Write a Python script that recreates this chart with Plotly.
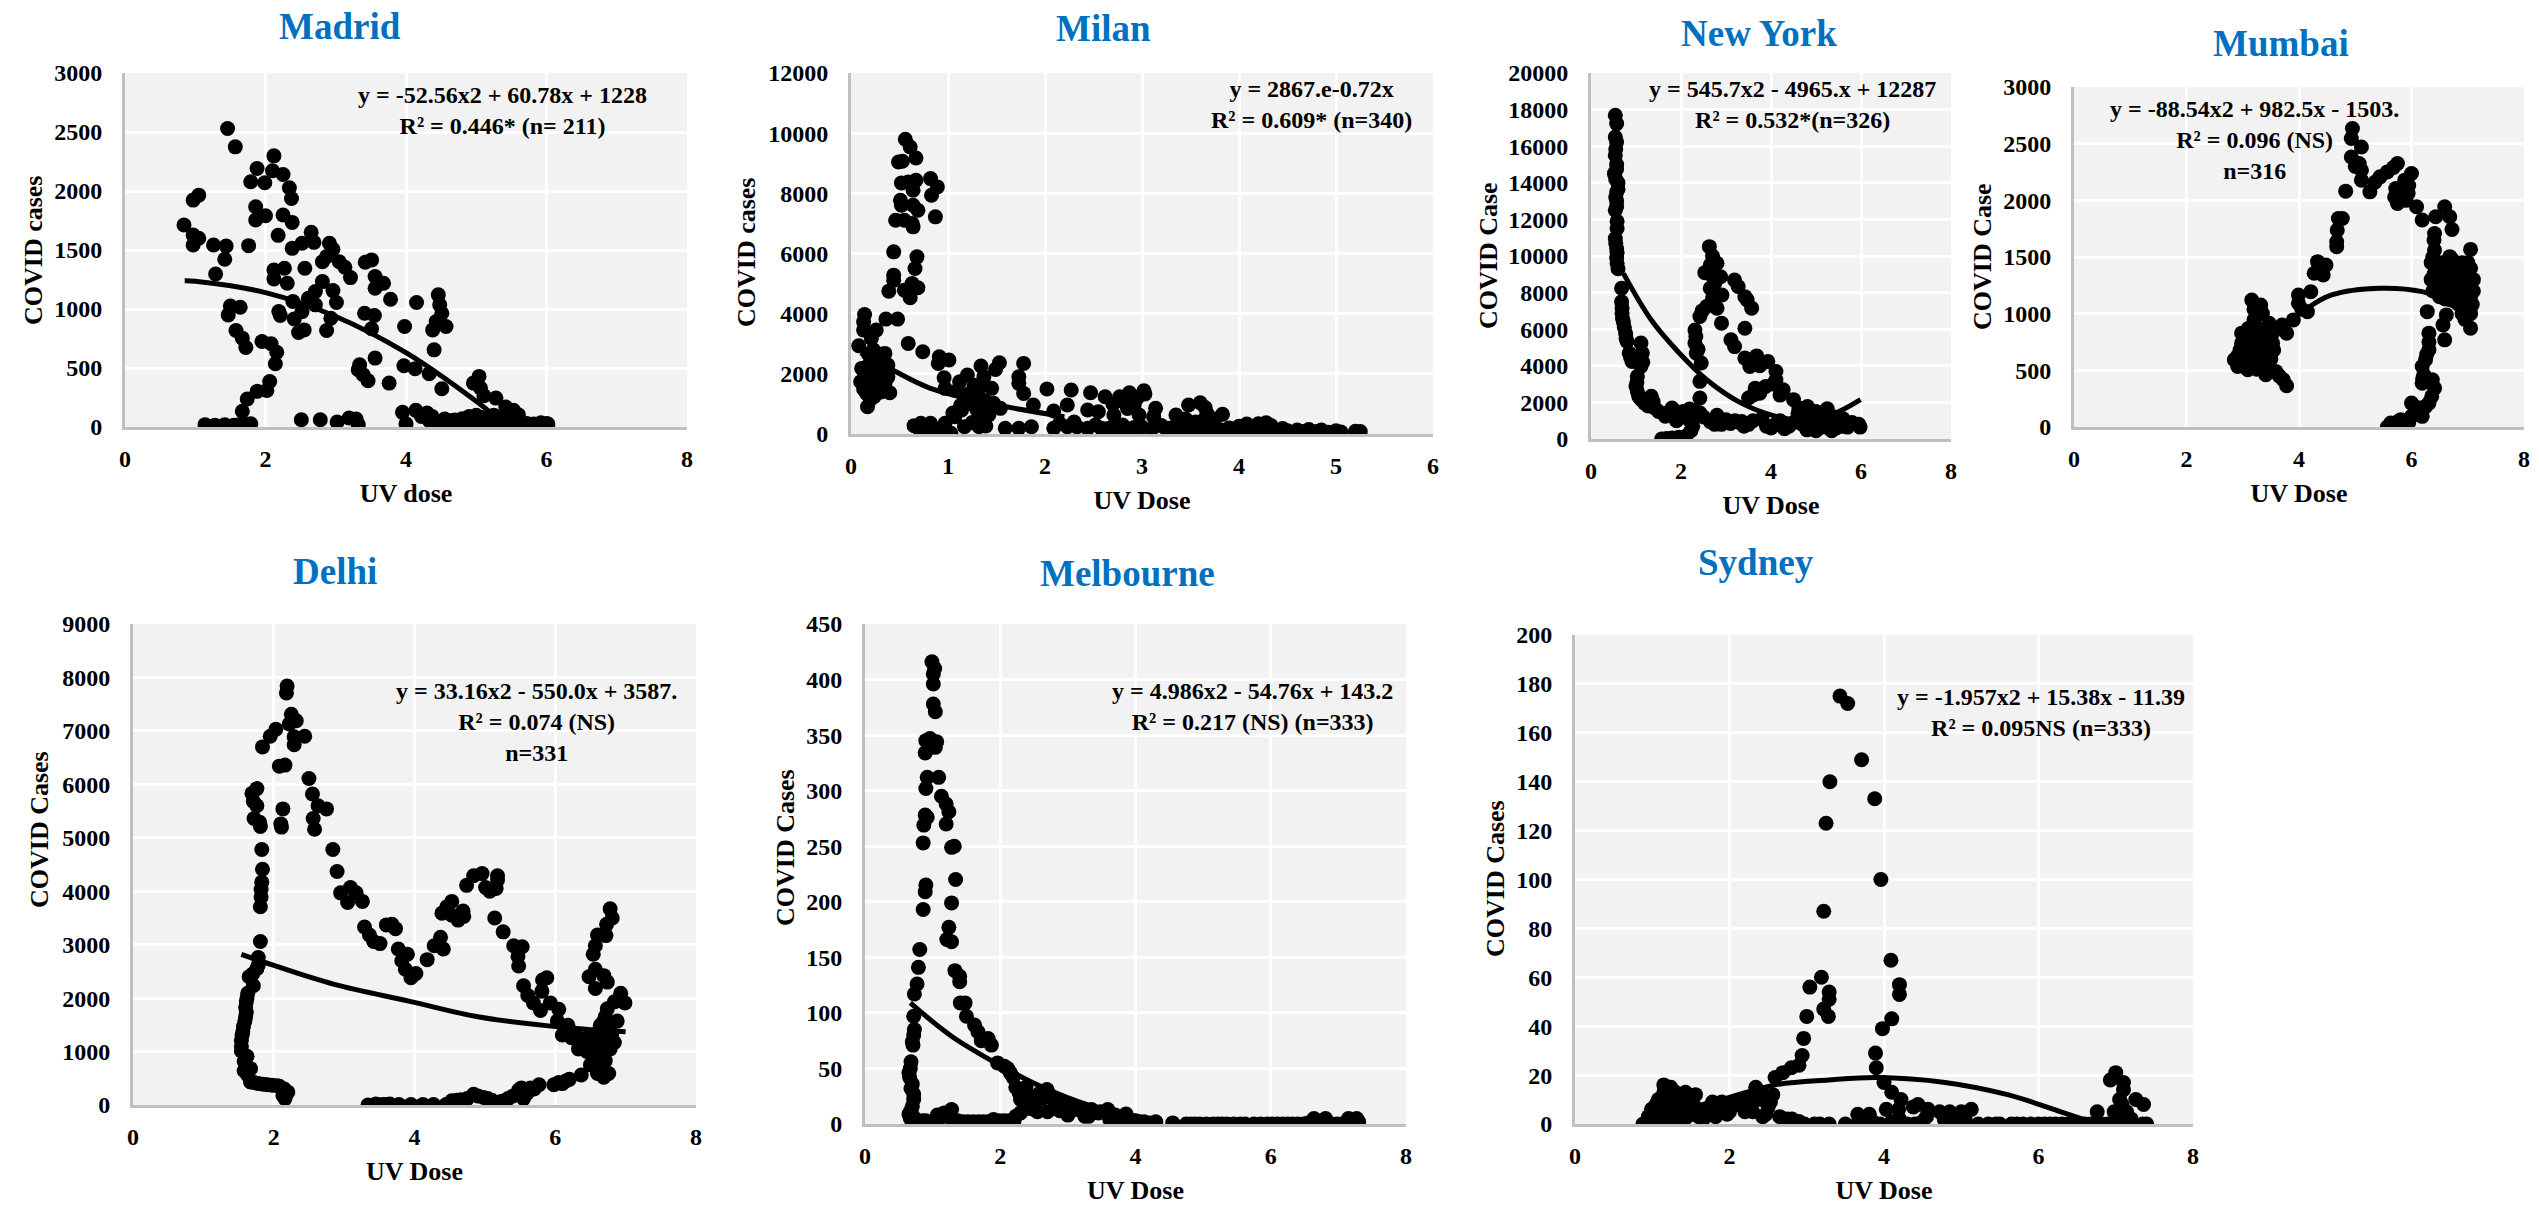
import plotly.graph_objects as go

W, H = 2539, 1206

madrid_points = [(.84,1712),(.97,1923),(1.05,1965),(.97,1627),(1.05,1600),(.97,1543),(1.26,1543),(1.44,1534),(1.42,1421),(1.29,1297),
(1.46,2530),(1.57,2374),(1.88,2191),(1.79,2078),(1.99,2070),(2.12,2298),(2.10,2171),(2.25,2140),(2.34,2028),(2.37,1937),
(1.86,1867),(1.86,1754),(2.0,1790),(2.25,1796),(2.38,1734),(2.18,1624),(1.76,1537),(2.38,1514),(2.52,1557),(2.65,1650),(2.69,1565),
(2.91,1557),(2.96,1506),(2.87,1444),(2.81,1401),(3.05,1401),(3.13,1354),(3.21,1266),(2.12,1331),(2.27,1345),(2.12,1255),(2.31,1218),(2.56,1345),
(3.42,1396),(3.51,1416),(3.56,1275),(3.56,1176),(3.68,1218),(3.78,1083),(2.81,1232),(2.96,1156),(3.01,1055),(2.71,1148),(2.39,1063),(2.61,1091),
(2.71,1035),(2.52,978),(2.41,916),(2.19,978),(2.21,945),(2.93,922),(2.47,801),(2.55,823),(2.87,818),(1.47,950),(1.50,1026),(1.64,1015),(1.58,818),
(1.67,753),(1.72,674),(1.95,725),(2.08,705),(2.16,634),(2.14,536),(2.06,386),(2.02,310),(1.88,302),(1.74,237),(1.67,133),(1.14,20),(1.28,14),(1.42,20),
(1.45,0),(1.62,20),(1.79,28),(2.51,62),(2.78,62),(3.02,42),(3.19,76),(3.29,68),(3.32,20),(3.41,964),(3.55,945),(3.51,832),(3.98,852),(4.15,1055),
(4.46,1120),(4.48,1035),(4.51,964),(4.43,894),(4.38,823),(4.57,852),(4.40,654),(3.56,584),(3.34,527),(3.32,485),(3.39,443),(3.46,392),(3.76,372),
(3.97,519),(4.13,494),(4.33,451),(4.51,324),(5.04,429),(4.96,372),(5.06,330),(5.11,265),(5.28,245),(5.42,169),(5.53,141),(5.60,104),
(3.95,124),(4.0,28),(4.14,141),(4.30,118),(4.33,56),(4.42,20),(4.55,68),(4.65,56),(4.7,60),(4.75,30),(4.8,70),(4.85,10),(4.9,90),(4.95,50),(5.0,100),
(5.02,20),(5.08,80),(5.12,45),(5.15,10),(5.2,70),(5.25,100),(5.3,40),(5.33,5),(5.38,80),(5.42,30),(5.47,110),(5.5,60),(5.55,15),(5.6,50),(5.65,25),
(5.68,5),(5.72,30),(5.78,10),(5.82,25),(5.88,15),(5.92,35),(5.97,20),(6.0,30),(6.02,25),(4.22,90),(4.37,90),(4.6,30),(4.72,15),(4.88,40),(5.05,60),(5.18,35),(5.35,55),(5.52,35),(1.55,15),(1.7,25)]
madrid_trend = [(.85,1240),(1,1236),(2,1139),(3,937),(4,630),(5,218),(5.2,123)]

milan_points = [(.56,9797),(.61,9542),(.67,9177),(.49,9044),(.53,9066),(.52,8347),(.59,8380),(.67,8435),(.64,8103),(.82,8490),(.89,8214),(.83,7937),
(.51,7771),(.52,7605),(.64,7605),(.69,7439),(.46,7107),(.55,7107),(.63,6996),(.64,6886),(.87,7218),(.44,6055),(.68,5889),(.66,5502),(.44,5280),(.44,5114),
(.63,5004),(.69,4860),(.55,4782),(.39,4749),(.61,4528),(.14,3974),(.13,3731),(.13,3454),(.26,3454),(.36,3819),(.48,3819),(.21,3177),(.08,2933),(.59,3011),
(.74,2734),(.91,2568),(1.01,2458),(.90,2347),(.35,2679),(.38,2292),(.11,2181),(.10,1738),(.16,1350),(.17,908),(.40,1373),
(.23,2800),(.28,2450),(.21,2350),(.33,2120),(.26,1900),(.18,1800),(.35,1680),(.28,1570),(.21,1460),(.31,1400),(.15,2100),(.25,2200),(.30,1800),(.38,1900),(.19,1600),(.24,1250),
(.18,2650),(.31,2650),(.14,1950),(.22,2020),(.36,2020),(.27,1720),(.33,1530),(.17,2250),(.29,2300),(.13,1500),(.2,1150),(.25,1420),
(.96,1871),(.97,1517),(1.12,1738),(1.2,1959),(1.34,2258),(1.53,2369),(1.49,2147),(1.78,2347),(1.73,1904),(1.73,1683),(1.45,1517),(1.78,1350),(1.37,1904),
(1.33,1570),(1.22,1350),(1.17,1130),(1.32,1240),(1.27,960),(1.47,1020),(1.54,852),(1.88,963),(2.02,1494),(2.27,1461),(2.47,1373),(2.62,1240),(2.09,764),
(2.23,963),(2.44,797),(2.55,742),(2.71,631),(2.77,1240),(2.87,1373),(3.02,1439),(3.03,1328),(2.92,963),(2.97,631),(3.14,852),(3.12,576),(3.35,631),(3.48,963),
(3.6,1041),(3.67,686),(3.83,653),(3.64,470),(3.49,360),(1.1,1450),(1.27,1620),(1.22,1100),(1.38,1100),(1.42,800),(1.3,800),(1.35,600),(1.13,950),(1.05,700),
(2.9,1250),(2.82,1050),(2.7,1000),(2.95,1200),(2.85,850),(3.65,880),(3.45,500),(3.55,400),(3.75,500),
(.65,277),(.72,354),(.82,354),(.72,55),(.87,55),(1.03,22),(.97,354),(1.07,576),(1.14,797),(1.17,244),(1.32,244),(1.39,266),(1.37,576),(1.42,631),
(1.59,190),(1.73,190),(1.86,240),(2.09,190),(2.23,240),(2.33,240),(2.44,190),(2.58,190),(2.77,130),(2.7,240),(2.86,170),(3.0,230),(3.1,170),(3.2,280),(3.3,200),
(3.42,60),(3.5,240),(3.58,120),(3.66,50),(3.72,200),(3.82,130),(3.95,80),(4.0,260),(4.03,40),(4.08,330),(4.12,100),(4.2,340),(4.28,370),(4.25,60),(4.33,280),
(4.38,90),(4.45,180),(4.55,50),(4.6,130),(4.65,30),(4.72,150),(4.75,40),(4.85,130),(4.92,60),(5.0,110),(5.05,70),(5.2,90),(5.25,80),
(2.15,350),(2.3,400),(2.52,300),(2.65,180),(2.8,300),(2.92,220),(3.25,170),(3.38,240),(3.45,150),(3.9,200),(4.15,180),(4.22,220),(4.35,150),(4.5,110),(4.68,90),(4.8,80),(.78,200),(.93,180),(1.25,380)]
milan_trend = [(.1,2700),(.43,2125),(.82,1517),(1.5,970),(2.2,576)]

newyork_points = [(.54,17690),(.57,17235),(.54,16500),(.57,16230),(.54,15500),(.57,15000),(.52,14500),(.6,14000),(.57,13500),(.57,13000),(.54,12500),(.58,11900),
(.58,11500),(.54,10950),(.57,10400),(.57,9900),(.6,9300),(.55,15850),(.57,14750),(.55,14200),(.6,13650),(.55,13200),(.57,12700),(.55,10700),(.58,10200),(.58,9600),
(.68,8235),(.68,7500),(.69,6870),(.72,6400),(.77,5780),(.8,5330),(.85,4690),(.91,4240),(1.11,5240),(1.14,4690),(.69,7150),(.7,6600),(.74,6100),(.78,5500),(.88,4450),(1.05,4400),(1.15,4200),
(1.11,3960),(1.03,3420),(1.0,2870),(1.06,2330),(1.34,2330),(1.19,1960),(1.42,1690),(1.65,1240),(1.8,1690),(2.19,1640),(1.96,1420),(2.42,1420),(2.26,690),(2.11,145),(1.8,55),(1.57,0),
(1.02,3100),(1.03,2600),(1.12,2150),(1.27,1800),(1.38,2050),(1.5,1500),(1.72,1450),(1.88,1500),(2.05,1500),(2.3,1550),(2.25,1150),(2.22,450),(1.95,100),(1.68,30),
(2.63,10510),(2.7,10000),(2.65,9500),(2.8,9600),(2.53,9090),(2.88,8870),(3.19,8690),(3.27,8330),(2.65,8240),(2.91,7870),(2.7,7690),(3.42,7780),(3.47,7600),(3.57,7150),
(2.57,7240),(2.8,7150),(2.42,6690),(2.9,6330),(3.42,6050),(2.31,5960),(2.31,5240),(3.11,5420),(3.19,5050),(2.34,4690),(2.45,4150),(3.42,4420),(3.53,3960),(3.68,4540),
(3.93,4240),(4.11,3690),(2.42,3150),(4.11,3240),(4.27,2690),(3.88,2870),(3.65,2780),(3.5,2240),(2.42,2240),(4.5,2150),(4.81,1780),
(2.65,9000),(2.75,8500),(2.68,7400),(2.47,7000),(2.33,5600),(2.38,4900),(3.52,4200),(3.75,4000),(4.05,3000),(4.2,2400),(3.75,2500),(3.6,2400),(4.62,1700),(5.0,1500),(5.25,1650),
(2.65,950),(2.8,1300),(3.0,1050),(3.2,1000),(3.4,700),(3.6,1000),(3.8,1100),(4.0,600),(4.2,1000),(4.3,560),(4.5,900),(4.6,1400),(4.7,800),(4.8,500),(4.9,1100),(5.0,450),
(5.1,900),(5.2,1500),(5.3,600),(5.4,1200),(5.5,800),(5.6,1100),(5.7,650),(5.8,900),(5.95,800),(2.5,1200),(2.2,1000),(1.9,1000),(2.9,800),(3.3,900),(4.9,1400),
(2.75,800),(3.1,850),(3.35,950),(3.5,800),(3.9,700),(4.1,800),(4.4,700),(4.75,1000),(4.95,750),(5.05,1200),(5.15,650),(5.25,1000),(5.35,450),(5.45,600),(5.6,700),(5.98,650)]
newyork_trend = [(.72,9050),(1.34,6500),(1.96,4700),(2.57,3240),(3.34,1960),(4.11,1240),(4.73,1020),(5.35,1330),(5.99,2150)]

mumbai_points = [(4.95,2633),(4.93,2545),(5.11,2471),(4.93,2383),(5.07,2325),(5.11,2266),(5.11,2178),(4.83,2081),(5.26,2075),(5.44,2207),(5.57,2251),(5.75,2325),(6.0,2237),
(5.88,2178),(5.72,2104),(5.75,1972),(5.94,2060),(6.09,1943),(6.19,1826),(4.7,1840),(4.77,1840),(4.68,1737),(4.67,1635),(4.67,1590),(4.33,1459),(4.48,1429),(4.27,1356),(4.43,1341),
(5.0,2300),(5.35,2160),(5.68,2290),(5.7,2030),(5.9,2000),(5.95,2130),(4.36,1400),
(4.21,1194),(3.99,1165),(3.99,1092),(4.15,1018),(3.9,945),(3.78,828),(3.16,1121),(3.32,1077),(3.2,945),(3.47,916),(2.98,828),(2.98,740),(3.28,828),(3.53,828),(2.85,593),(2.91,534),
(3.09,770),(3.21,680),(3.4,710),(3.53,740),(3.04,650),(3.28,593),(3.47,650),(3.16,563),(3.09,505),(3.41,461),(3.59,490),(3.72,417),(3.78,364),
(3.2,1040),(3.35,1000),(3.1,870),(3.25,880),(3.42,870),(3.6,870),(3.7,900),(2.95,680),(2.9,620),(3.12,700),(3.18,760),(3.32,750),(3.45,780),(3.55,680),(3.0,580),(3.2,620),(3.35,530),(3.45,560),(3.25,510),(3.65,450),(3.05,610),(3.5,600),(4.05,1040),
(6.59,1943),(6.43,1855),(6.68,1855),(6.72,1743),(6.41,1708),(6.41,1561),(7.05,1567),(6.68,1503),(6.35,1450),(6.5,1400),(6.6,1350),(6.8,1420),(7.0,1450),(6.35,1300),(6.45,1250),
(6.6,1200),(6.75,1300),(6.9,1250),(7.08,1300),(6.5,1150),(6.7,1120),(6.85,1150),(7.05,1150),(6.95,1050),(7.05,1000),(6.9,1350),(7.1,1200),(6.95,950),
(6.4,1650),(6.38,1500),(6.45,1420),(6.55,1450),(6.65,1420),(6.72,1480),(6.8,1350),(6.9,1450),(7.0,1350),(7.05,1400),(6.4,1350),(6.5,1300),(6.65,1280),(6.7,1220),(6.82,1250),(6.95,1180),
(7.05,1230),(7.1,1300),(6.45,1200),(6.55,1250),(6.6,1130),(6.75,1180),(6.85,1080),(6.98,1120),(7.08,1080),(7.0,1030),(6.9,1000),(6.78,1380),(6.52,1350),(6.98,1280),(6.38,1200),(6.8,1100),
(6.28,1018),(6.62,989),(6.56,901),(7.05,872),(6.59,769),(6.31,828),(6.31,681),(6.25,593),(6.19,534),(6.19,387),(6.37,417),(6.41,343),(6.0,211),(6.31,211),(6.19,94),(6,94),(5.81,65),(5.63,35),(5.57,0),(5.88,0),(5.7,10),
(6.31,750),(6.27,640),(6.22,460),(6.2,430),(6.36,270),(6.25,180),(6.12,170),(6.05,110),(5.95,40),(5.75,45),(5.62,5),(5.8,5)]
mumbai_trend = [(4.15,1048),(4.58,1165),(5.44,1224),(6.19,1194),(6.68,1106)]

delhi_points = [(2.19,7840),(2.18,7710),(2.25,7310),(2.32,7190),(2.22,7130),(2.03,7030),(1.95,6900),(1.84,6700),(2.44,6900),(2.29,6890),(2.29,6740),(2.16,6360),(2.08,6340),(2.5,6110),
(1.76,5920),(1.69,5830),(1.71,5680),(1.76,5600),(2.13,5540),(2.55,5820),(2.63,5600),(2.75,5540),(2.56,5360),(1.72,5360),(1.8,5290),(1.81,5210),(2.1,5260),(2.11,5200),(2.58,5160),
(1.83,4780),(2.84,4780),(1.84,4410),(2.9,4370),(1.83,4170),(1.82,4030),(1.82,3890),(1.81,3710),(2.95,3970),(3.09,4070),(3.17,3970),(3.05,3790),(3.26,3810),(3.29,3330),(3.36,3180),
(3.42,3060),(3.51,3020),(3.6,3370),(3.68,3380),(3.73,3300),(3.77,2920),(3.9,2820),(3.82,2700),(3.87,2540),(3.95,2380),(4.02,2460),(4.18,2720),(4.28,2980),(4.37,3140),(4.41,2920),
(4.39,3590),(4.46,3710),(4.53,3810),(4.53,3550),(4.62,3460),(4.69,3630),(4.7,3530),(4.74,4110),(4.84,4290),(4.96,4330),(5.18,4290),(5.18,4210),(5.01,4070),(5.07,4000),(5.16,4050),
(5.14,3500),(5.26,3240),(5.41,2980),(5.53,2960),(5.47,2780),(5.48,2600),(5.55,2230),(5.61,2050),(5.69,1910),(5.79,1770),(5.81,2130),(5.82,2340),(5.88,2380),(5.93,1910),(6.05,1790),
(6.03,1570),(6.18,1490),(6.1,1310),(6.23,1260),(6.33,1050),(6.78,3670),(6.81,3500),(6.73,3380),(6.6,3180),(6.72,3170),(6.57,2980),(6.54,2820),(6.57,2540),(6.48,2400),(6.69,2420),
(6.74,2300),(6.57,2180),(6.93,2090),(6.99,1910),(6.84,1930),(6.74,1800),(6.71,1650),(6.88,1570),(6.64,1490),(6.78,1410),(6.64,1210),(6.54,1170),(6.84,1170),(6.44,1250),(6.54,890),
(6.71,830),(6.6,590),(6.76,590),(6.69,520),(6.45,1000),(6.7,1100),(6.6,1350),(6.4,1150),(6.5,1050),(6.6,1000),(6.72,1300),(6.78,1050),(6.35,1200),(6.55,1300),(6.8,1300),(6.68,1550),(6.5,750),(6.65,700),(6.3,1300),
(1.81,3060),(1.78,2760),(1.78,2620),(1.65,2400),(1.71,2230),(1.63,2090),(1.61,1930),(1.61,1730),(1.59,1570),
(1.56,1370),(1.54,1210),(1.54,1010),(1.62,910),(1.58,640),(1.67,680),(1.67,430),(1.78,400),(1.91,380),(2.08,350),(2.2,240),(2.16,120),(3.34,0),(3.51,0),(3.6,10),(3.78,10),(3.95,10),
(1.76,2550),(1.7,2450),(1.62,2000),(1.6,1830),(1.6,1650),(1.57,1470),(1.55,1300),(1.54,1100),(1.58,820),(1.6,740),(1.63,560),(1.72,420),(1.98,370),(2.15,300),(2.13,180),(2.05,360),(1.85,390),
(3.45,20),(3.55,10),(3.65,20),(4.45,10),(4.5,30),
(4.12,10),(4.27,10),(4.46,5),(4.53,80),(4.66,100),(4.84,200),(5.04,120),(5.18,40),(5.33,120),(5.52,320),(5.55,120),(5.65,320),(5.77,380),(5.98,380),(6.1,400),(6.2,480),(6.37,560),
(4.6,90),(4.75,120),(4.9,170),(4.98,140),(5.1,90),(5.24,70),(5.4,170),(5.48,280),(5.6,220),(5.7,300),(6.05,420),(6.15,450)]
delhi_trend = [(1.54,2820),(1.98,2620),(2.86,2256),(3.95,1934),(4.9,1650),(6.13,1450),(7.0,1370)]

melbourne_points = [(.99,416),(1.03,410),(1.01,405),(1.01,396),(1.01,378),(1.04,371),(.96,347),(1.06,344),(.9,345),(1.04,339),(.89,334),(.92,312),(1.09,312),(.9,302),(1.13,295),(1.2,288),
(1.24,281),(.89,278),(.92,276),(.87,269),(1.2,270),(.86,253),(1.28,249),(1.32,250),(1.34,220),(.9,215),(.89,209),(1.28,199),(.86,193),(1.24,177),(1.21,166),(1.28,164),(.81,157),(.79,141),
(.77,126),(1.33,138),(1.4,133),(1.4,128),(.73,117),(1.41,109),(1.48,109),(.72,97),(1.5,97),(1.62,89),(.73,85),(.72,80),(.7,74),(1.67,83),(1.72,75),(1.82,77),(1.87,71),(.71,71),
(.68,56),(.65,46),(.7,36),(.72,27),(.65,9),(.67,5),(.7,1),(.8,1),(1.96,55),(2.11,50),(2.19,42),(2.23,33),(2.38,33),(2.36,23),(2.57,27),(2.69,31),(2.77,23),(2.94,19),(3.14,13),(3.35,13),
(.67,50),(.66,42),(.68,32),(.72,22),(.7,16),(.68,12),(.71,7),(.75,4),(.85,3),(2.06,52),(2.15,46),(2.28,28),(2.3,22),(2.42,25),(2.5,18),(2.62,23),(2.72,27),(2.85,20),(3.05,15),(3.2,12),(3.45,10),(2.4,14),(2.55,11),(2.88,12),(3.25,7),(3.48,11),
(3.59,13),(3.86,9),(4.13,2),(4.3,2),(1.07,8),(1.28,13),(1.17,10),(2.23,7),(2.5,13),(2.7,11),(3,8),(3.31,7),(3.62,4),(3.8,3),(4.0,3),(4.55,1),(4.75,0),(4.95,0),(5.15,0),(5.35,0),(5.55,0),
(5.75,0),(5.95,0),(6.1,0),(6.25,0),(6.4,0),(6.55,1),(6.64,5),(6.81,5),(6.9,0),(7.05,0),(7.15,5),(7.27,5),(7.3,2),(1.3,2),(1.45,2),(1.6,2),(1.75,2),(1.9,4),(2.05,3),(2.2,2),(.9,3),(1.0,1),
(3.7,8),(3.9,5),(4.05,2),(4.22,1),(4.82,0),(4.88,0),(5.05,0),(5.22,0),(5.28,0),(5.45,0),(5.62,0),(5.85,0),(6.02,0),(6.18,0),(6.32,0),(6.48,0),(6.7,2),(6.75,2),(6.98,0),(7.12,1),(7.22,1),(1.1,5),(1.22,7),(1.37,3),(1.52,2),(1.68,2),(1.82,2),(1.98,3),(2.12,3),(2.3,10)]
melbourne_trend = [(.67,109),(1.28,79),(1.96,54),(2.63,33),(3.31,17),(4,7),(4.3,4)]

sydney_points = [(3.43,175),(3.53,172),(3.71,149),(3.3,140),(3.88,133),(3.25,123),(3.96,100),(3.22,87),(4.09,67),(3.19,60),(3.04,56),(3.29,54),(3.29,51),(4.2,57),(4.2,53),(3.22,47),(3.0,44),
(3.28,44),(4.1,43),(3.98,39),(2.96,35),(3.89,29),(3.9,23),(2.94,28),(2.9,24),(2.8,23),(2.69,21),(2.59,19),(4.0,17),(4.1,13),(4.22,10),(4.38,7),(4.44,8),(4.57,6),(4.72,5),(4.85,5),(5.0,5),
(5.13,6),(4.8,0),(5.0,0),(5.22,0),(1.15,16),(1.24,15),(1.15,13),(1.08,10),(.99,6),(.88,0),(1.43,13),(1.56,12),(1.33,10),(1.2,8),(1.26,6),(1.66,2),(1.78,9),(1.9,9),(1.97,4),(2.1,8),(2.34,15),
(2.24,7),(2.37,10),(2.56,12),(2.53,9),(2.47,4),(2.65,3),(2.81,2),(2.97,0),(3.17,0),(3.29,0),(7.0,21),(6.93,18),(7.1,17),(7.1,14),(7.05,10),(7.26,10),(7.36,8),(6.76,5),(6.98,5),(7.14,5),(7.2,2),
(3.66,4),(3.81,4),(4.03,6),(4.19,6),(3.5,0),(3.65,0),(3.8,0),(3.95,0),(4.1,1),(4.3,0),(4.5,1),(1.0,0),(1.1,1),(1.25,0),(1.4,1),(1.5,5),(1.7,5),(1.85,6),(2.0,5),(2.2,5),(5.35,0),(5.5,0),(5.65,0),
(5.8,0),(6.0,0),(6.15,0),(6.3,0),(6.45,0),(6.6,0),(6.75,0),(6.9,0),(7.05,0),(7.2,0),(7.35,0),(7.4,0),
(1.05,8),(1.1,5),(1.18,11),(1.3,13),(1.38,8),(1.47,9),(1.55,7),(1.6,3),(1.3,3),(1.05,2),(.95,3),(1.2,3),(1.45,3),(1.75,7),(1.82,3),(2.05,8),(2.15,10),(2.3,10),(2.42,13),(2.5,7),(2.3,5),(2.43,3),(2.75,2),(2.9,1),(3.1,0),
(3.7,2),(3.85,1),(4.2,2),(4.4,0),(4.55,3),(4.78,2),(4.9,1),(5.05,2),(5.45,0),(5.72,0),(5.9,0),(6.08,0),(6.22,0),(6.38,0),(6.52,0),(6.68,0),(6.82,0),(6.98,0),(7.1,5),(7.14,0),(7.08,8)]
sydney_trend = [(1.4,6),(1.9,10),(2.59,16),(3.28,18),(3.91,19),(4.79,17),(5.6,12),(6.29,5),(6.67,1)]

cities = ["Madrid", "Milan", "New York", "Mumbai", "Delhi", "Melbourne", "Sydney"]
points = [madrid_points, milan_points, newyork_points, mumbai_points, delhi_points, melbourne_points, sydney_points]
trends = [madrid_trend, milan_trend, newyork_trend, mumbai_trend, delhi_trend, melbourne_trend, sydney_trend]
x_titles = ["UV dose", "UV Dose", "UV Dose", "UV Dose", "UV Dose", "UV Dose", "UV Dose"]
y_titles = ["COVID cases", "COVID cases", "COVID Case", "COVID Case", "COVID Cases", "COVID Cases", "COVID Cases"]
x_tops = [8, 6, 8, 8, 8, 8, 8]
x_steps = [2, 1, 2, 2, 2, 2, 2]
y_tops = [3000, 12000, 20000, 3000, 9000, 450, 200]
y_steps = [500, 2000, 2000, 500, 1000, 50, 20]
notes = [
    "y = -52.56x2 + 60.78x + 1228<br>R² = 0.446* (n= 211)",
    "y = 2867.e-0.72x<br>R² = 0.609* (n=340)",
    "y = 545.7x2 - 4965.x + 12287<br>R² = 0.532*(n=326)",
    "y = -88.54x2 + 982.5x - 1503.<br>R² = 0.096 (NS)<br>n=316",
    "y = 33.16x2 - 550.0x + 3587.<br>R² = 0.074 (NS)<br>n=331",
    "y = 4.986x2 - 54.76x + 143.2<br>R² = 0.217 (NS) (n=333)",
    "y = -1.957x2 + 15.38x - 11.39<br>R² = 0.095NS (n=333)",
]

# layout in page pixels: plot box (left, right, top, bottom)
boxes = [(125,687,73,427),(851,1433,73,434),(1591,1951,73,439),(2074,2524,87,427),(133,696,624,1105),(865,1406,624,1124),(1575,2193,635,1124)]
title_at = [(340,27),(1103,28),(1759,33),(2281,43),(335,571),(1127,573),(1756,563)]
note_at = [(502,110),(1311,104),(1792,104),(2254,140),(536,722),(1252,706),(2041,712)]
ytitle_at = [(33,250),(747,252),(1488,256),(1983,257),(39,830),(785,848),(1495,879)]

SERIF = "Liberation Serif"
fig = go.Figure()
annotations = []
px = lambda v: v / W
py = lambda v: 1 - v / H
layout = {}
for i, city in enumerate(cities):
    sfx = "" if i == 0 else str(i + 1)
    l, r, t, b = boxes[i]
    fig.add_trace(go.Scatter(x=[p[0] for p in points[i]], y=[p[1] for p in points[i]], mode="markers", name=city,
                             marker=dict(color="black", size=15), xaxis="x" + sfx, yaxis="y" + sfx, showlegend=False))
    fig.add_trace(go.Scatter(x=[p[0] for p in trends[i]], y=[p[1] for p in trends[i]], mode="lines", name=city + " trend",
                             line=dict(color="black", width=5, shape="spline"), xaxis="x" + sfx, yaxis="y" + sfx, showlegend=False))
    tick_font = dict(family=SERIF, size=24, color="black", weight="bold")
    common = dict(showgrid=True, gridcolor="white", gridwidth=2.5, zeroline=False, showline=True, linecolor="#BFBFBF", linewidth=3,
                  ticks="outside", tickcolor="rgba(0,0,0,0)", tickfont=tick_font, tickformat="d", automargin=False)
    layout["xaxis" + sfx] = dict(domain=[px(l), px(r)], range=[0, x_tops[i]], dtick=x_steps[i], tick0=0, anchor="y" + sfx, ticklen=8,
                                 title=dict(text="<b>%s</b>" % x_titles[i], font=dict(family=SERIF, size=26, color="black"), standoff=14), **common)
    layout["yaxis" + sfx] = dict(domain=[py(b), py(t)], range=[0, y_tops[i]], dtick=y_steps[i], tick0=0, anchor="x" + sfx, ticklen=15, **common)
    annotations.append(dict(text="<b>%s</b>" % city, x=px(title_at[i][0]), y=py(title_at[i][1]), xref="paper", yref="paper", showarrow=False,
                            xanchor="center", yanchor="middle", font=dict(family=SERIF, size=37, color="#0070C0")))
    annotations.append(dict(text="<b>%s</b>" % notes[i].replace("<br>", "</b><br><b>"), x=px(note_at[i][0]), y=py(note_at[i][1]), xref="paper", yref="paper", showarrow=False,
                            xanchor="center", yanchor="middle", align="center", font=dict(family=SERIF, size=24, color="black")))
    annotations.append(dict(text="<b>%s</b>" % y_titles[i], x=px(ytitle_at[i][0]), y=py(ytitle_at[i][1]), xref="paper", yref="paper", showarrow=False,
                            textangle=-90, xanchor="center", yanchor="middle", font=dict(family=SERIF, size=26, color="black")))

fig.update_layout(width=W, height=H, margin=dict(l=0, r=0, t=0, b=0), paper_bgcolor="white", plot_bgcolor="#F2F2F2",
                  showlegend=False, annotations=annotations, **layout)
fig.write_html("out.html", config=dict(displayModeBar=False), post_script="document.body.style.margin='0';document.body.style.overflow='hidden';")
